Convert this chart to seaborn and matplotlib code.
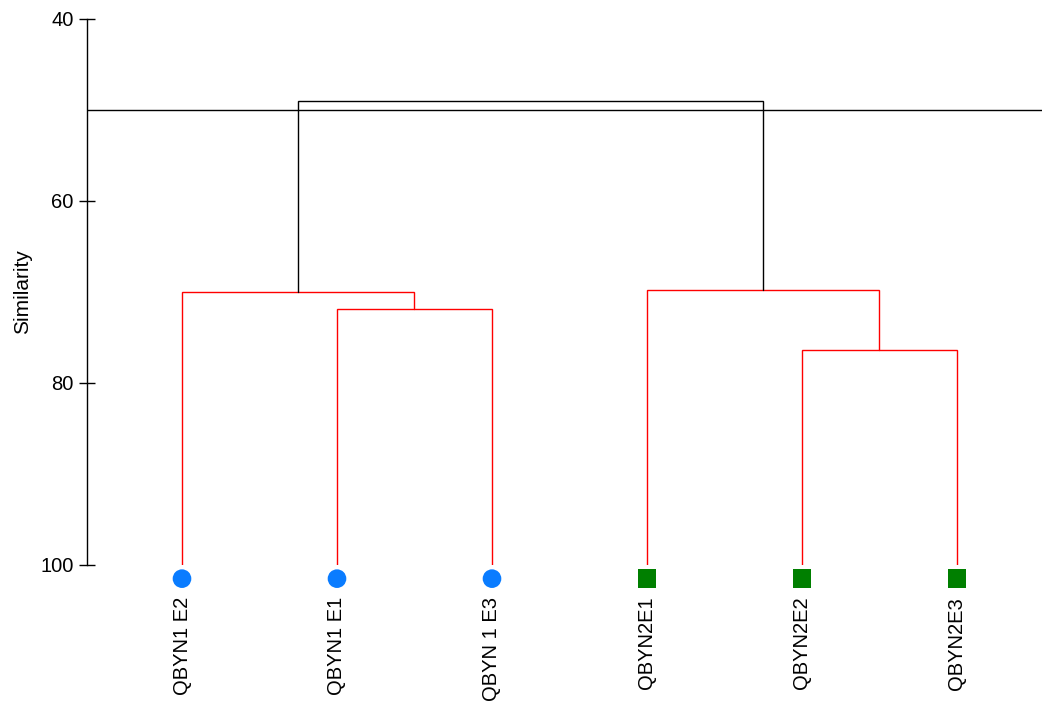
import matplotlib
matplotlib.use("Agg")
import matplotlib.pyplot as plt
import seaborn as sns
import pandas as pd
import numpy as np

# ---- data ----
leaf_labels = ["QBYN1 E2", "QBYN1 E1", "QBYN 1 E3", "QBYN2E1", "QBYN2E2", "QBYN2E3"]
leaf_group = ["QBYN1", "QBYN1", "QBYN1", "QBYN2", "QBYN2", "QBYN2"]
# merges: (left node, right node, similarity); nodes 0-5 are leaves, 6+ are merged clusters
merge_left = [1, 4, 0, 3, 8]
merge_right = [2, 5, 6, 7, 9]
merge_sim = [71.9, 76.4, 70.0, 69.8, 49.0]
merge_color = ["red", "red", "red", "red", "black"]
cut_level = 50.0
y_ticks = [40, 60, 80, 100]

sns.set_theme(style="white")
plt.rcParams['font.family'] = ['Liberation Sans', 'DejaVu Sans']
plt.rcParams['text.color'] = 'black'
plt.rcParams['axes.labelcolor'] = 'black'
plt.rcParams['ytick.color'] = 'black'

fig = plt.figure(figsize=(10.42, 7.05), dpi=100)
ax = fig.add_axes([87/1042, 1 - 565/705, (1042 - 87)/1042, (565 - 19)/705])

# node positions / heights
pos = {i: float(i) for i in range(len(leaf_labels))}
height = {i: 100.0 for i in range(len(leaf_labels))}
rows = []
for k, (l, r, s, c) in enumerate(zip(merge_left, merge_right, merge_sim, merge_color)):
    node = len(leaf_labels) + k
    xl, xr = pos[l], pos[r]
    rows.append(dict(seg=f"{k}a", x=xl, y=height[l], color=c, o=0))
    rows.append(dict(seg=f"{k}a", x=xl, y=s, color=c, o=1))
    rows.append(dict(seg=f"{k}a", x=xr, y=s, color=c, o=2))
    rows.append(dict(seg=f"{k}a", x=xr, y=height[r], color=c, o=3))
    pos[node] = (xl + xr) / 2
    height[node] = s
df = pd.DataFrame(rows)

for seg, g in df.groupby("seg"):
    ax.plot(g["x"], g["y"], color=g["color"].iloc[0], lw=1.0, solid_joinstyle="miter")

ax.axhline(cut_level, color="black", lw=1.0)

leaf_df = pd.DataFrame(dict(x=np.arange(len(leaf_labels)), y=[101.5] * len(leaf_labels),
                            group=leaf_group))
sns.scatterplot(data=leaf_df, x="x", y="y", hue="group", style="group",
                palette={"QBYN1": "#0a7cff", "QBYN2": "#007f00"},
                markers={"QBYN1": "o", "QBYN2": "s"}, s=180, edgecolor="none",
                clip_on=False, legend=False, ax=ax, zorder=5)

for i, lab in enumerate(leaf_labels):
    ax.text(i, 103.5, lab, rotation=90, ha="center", va="top", fontsize=14.5,
            color="black", clip_on=False)

ax.set_xlim(-95/155, (1042 - 182)/155)
ax.set_ylim(100, 40)
ax.set_yticks(y_ticks)
ax.set_yticklabels([str(t) for t in y_ticks], fontsize=14.5, color="black")
ax.set_xticks([])
ax.set_xlabel("")
ax.set_ylabel("Similarity", fontsize=15, labelpad=6, color="black")
ax.tick_params(axis="y", left=True, direction="inout", length=12, width=1,
               color="black", labelcolor="black", pad=3.5)
for sp in ["top", "right", "bottom"]:
    ax.spines[sp].set_visible(False)
ax.spines["left"].set_color("black")
ax.spines["left"].set_linewidth(1.0)

fig.savefig("out.png", dpi=100)
